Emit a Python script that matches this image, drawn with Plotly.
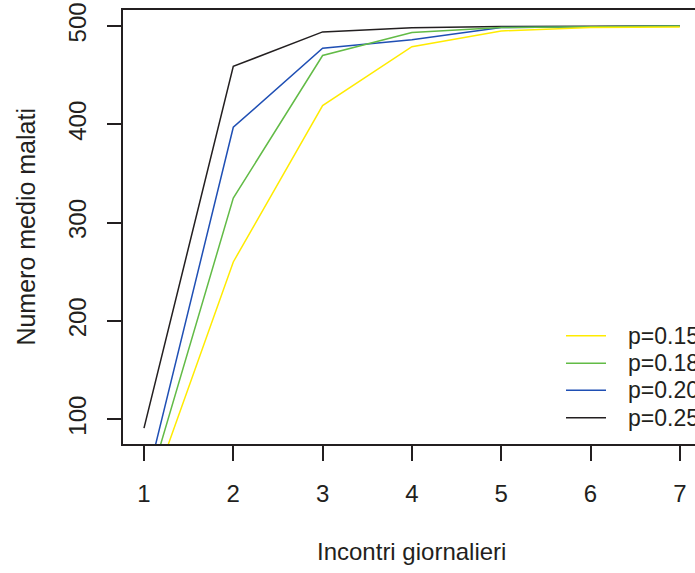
import plotly.graph_objects as go

days = [1, 2, 3, 4, 5, 6, 7]
p015 = [5, 260, 419, 479, 495, 498.5, 499]
p018 = [17, 325, 470, 493.5, 498.5, 499.5, 500]
p020 = [26, 397, 477.5, 486, 498.5, 499.5, 500]
p025 = [91, 459, 494, 498.3, 499.5, 500, 500]

names = ["p=0.15", "p=0.18", "p=0.20", "p=0.25"]
colors = ["#FFEB00", "#62BB46", "#1F4FB4", "#231F20"]
series = [p015, p018, p020, p025]

x_ticks = [1, 2, 3, 4, 5, 6, 7]
y_ticks = [100, 200, 300, 400, 500]

FONT = "Liberation Sans, Arial, sans-serif"
FS = 24

W, H = 695, 573
L, R, T, B = 123, 0, 10, 129
PW, PH = W - L - R, H - T - B

fig = go.Figure()
for idx in [3, 2, 1, 0]:
    fig.add_trace(go.Scatter(x=days, y=series[idx], mode="lines", name=names[idx],
                             line=dict(color=colors[idx], width=1.5), showlegend=False))

fig.update_layout(
    width=W, height=H,
    margin=dict(l=L, r=R, t=T, b=B, pad=0),
    plot_bgcolor="white", paper_bgcolor="white",
    font=dict(family=FONT, size=FS, color="#231F20"),
    xaxis=dict(range=[0.765, 7.17], tickvals=x_ticks, ticktext=[str(v) for v in x_ticks],
               showgrid=False, zeroline=False, showline=True, linecolor="#231F20",
               linewidth=1.5, mirror=True, ticks="outside", ticklen=15, tickwidth=1.5,
               tickcolor="#231F20", tickfont=dict(size=FS), ticklabelstandoff=12),
    yaxis=dict(range=[74.8, 516.3], tickvals=y_ticks, ticktext=[str(v) for v in y_ticks],
               showgrid=False, zeroline=False, showline=True, linecolor="#231F20",
               linewidth=1.5, mirror=False, ticks="outside", ticklen=14, tickwidth=1.5,
               tickcolor="#231F20", tickangle=-90, tickfont=dict(size=FS),
               ticklabelstandoff=12),
)

fig.add_annotation(x=4, y=(444 - 551) / PH, xref="x", yref="paper", text="Incontri giornalieri",
                   showarrow=False, xanchor="center", yanchor="middle",
                   font=dict(size=24, family=FONT, color="#231F20"))
fig.add_annotation(x=(25.6 - L) / PW, y=(444 - 227) / PH, xref="paper", yref="paper",
                   text="Numero medio malati", textangle=-90, showarrow=False,
                   xanchor="center", yanchor="middle",
                   font=dict(size=25, family=FONT, color="#231F20"))

rows_y = [335.7, 363.3, 390.3, 417.7]
for name, col, py in zip(names, colors, rows_y):
    yp = (444 - py) / PH
    fig.add_shape(type="line", xref="paper", yref="paper",
                  x0=(566 - L) / PW, x1=(606 - L) / PW, y0=yp, y1=yp,
                  line=dict(color=col, width=1.5))
    fig.add_annotation(x=(626 - L) / PW, y=yp, xref="paper", yref="paper", text=name,
                       showarrow=False, xanchor="left", yanchor="middle",
                       font=dict(size=23, family=FONT, color="#231F20"))

fig.write_html("out.html")
